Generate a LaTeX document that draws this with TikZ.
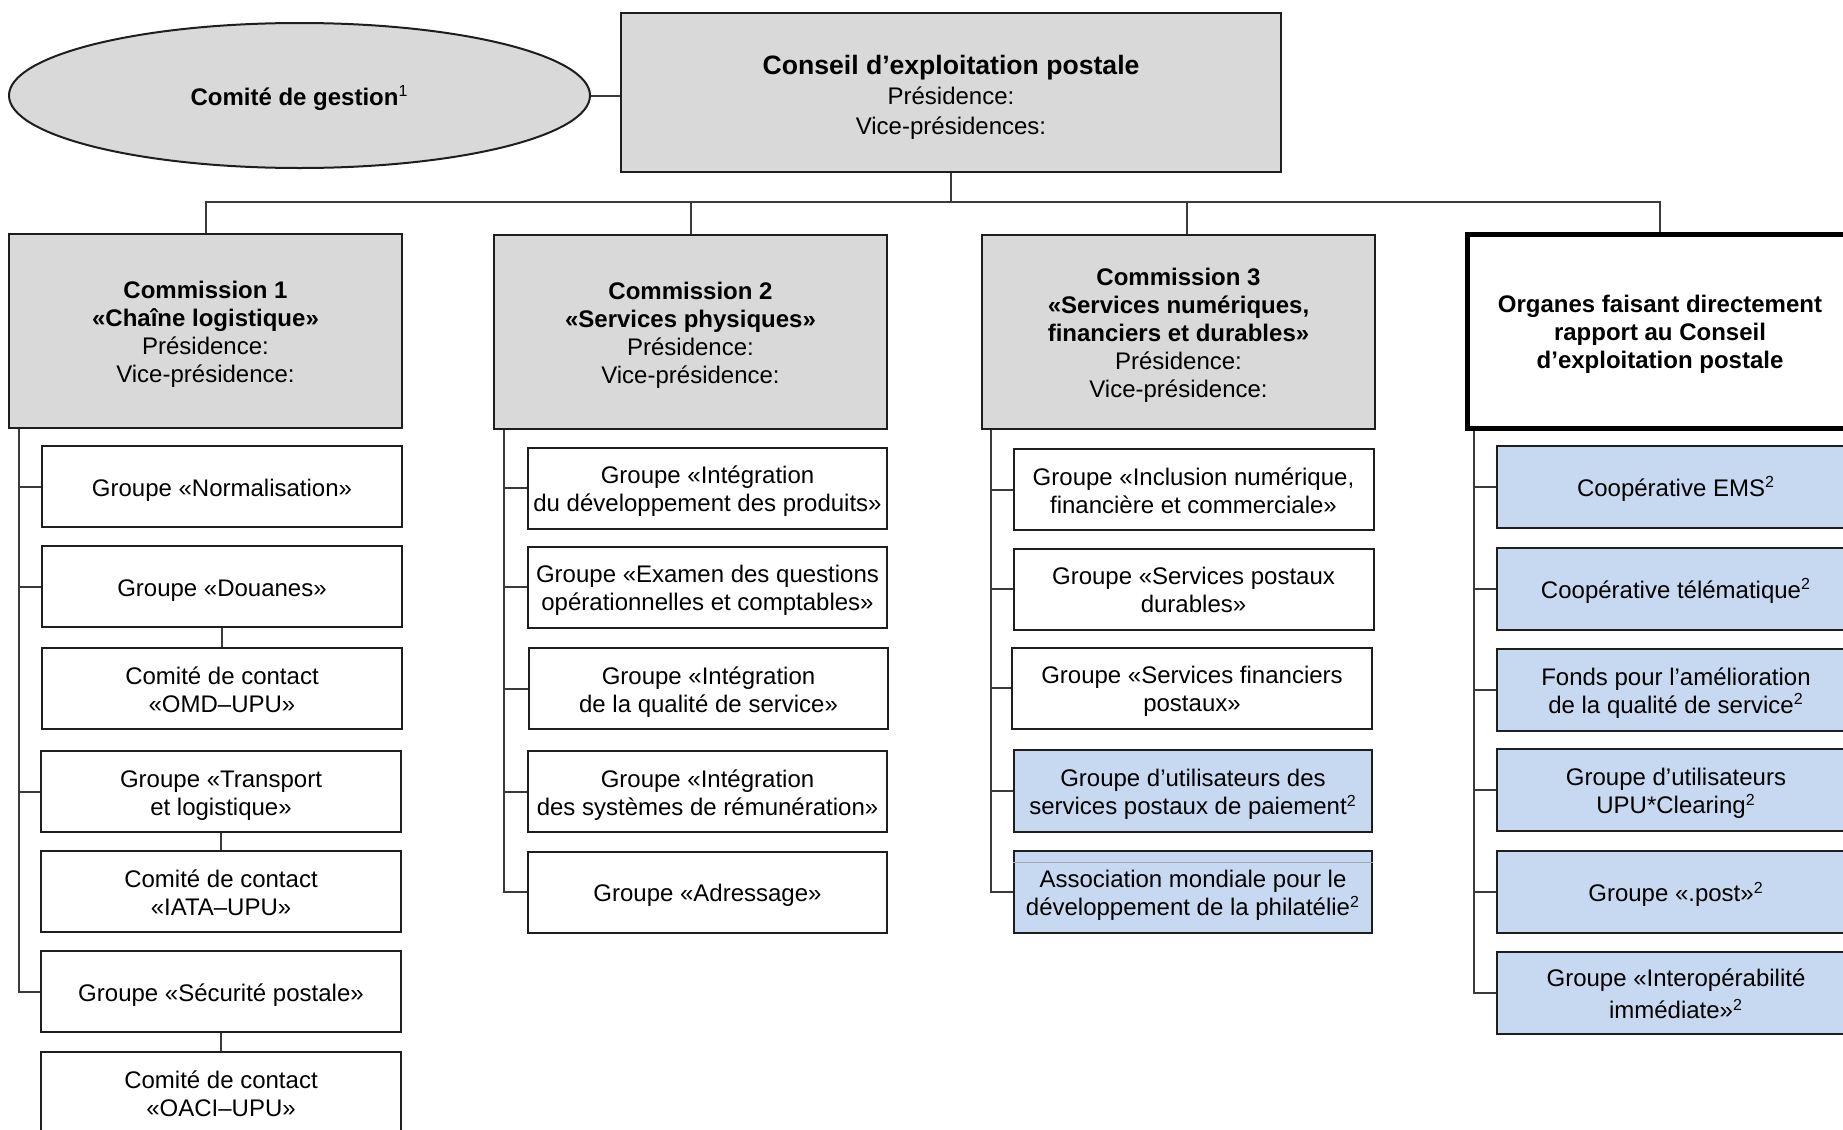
\documentclass[tikz,border=0pt]{standalone}
\usepackage{fontspec}
\setmainfont{Liberation Sans}
\usetikzlibrary{shapes.geometric}
\definecolor{boxgray}{HTML}{D9D9D9}
\definecolor{boxblue}{HTML}{C6D9F1}
\definecolor{linec}{HTML}{3A3A3A}
\definecolor{edgec}{HTML}{1E1E1E}
\newcommand\topstrut[1]{\rule{0pt}{#1}}
\newcommand\botstrut{\rule[-2.5pt]{0pt}{0pt}}
\begin{document}
\begin{tikzpicture}[x=0.5pt,y=-0.5pt,
  base/.style={draw=edgec, line width=1pt, align=center, inner sep=0pt, font=\fontsize{12}{14}\selectfont},
  sub/.style={base, minimum width=180pt, minimum height=40.5pt},
  comm/.style={base, fill=boxgray, minimum width=196.5pt, minimum height=97pt},
  ext/.style={base, fill=boxblue, minimum width=179pt, minimum height=41pt},
  link/.style={draw=linec, line width=1pt}]
\useasboundingbox (0,0) rectangle (1843,1130);
\clip (0,0) rectangle (1843,1130);

% top level
\node[base, ellipse, fill=boxgray, minimum width=290.5pt, minimum height=72.5pt] (ges) at (299.5,95.5)
  {\topstrut{12.2pt}\textbf{Comité de gestion}\textsuperscript{1}\botstrut};
\node[base, fill=boxgray, minimum width=330pt, minimum height=79.5pt] (con) at (951,92.5)
  {\topstrut{14.5pt}{\fontsize{13.3}{16}\selectfont\bfseries Conseil d’exploitation postale}\\[1pt]Présidence:\\[1pt]Vice-présidences:\botstrut};

% commissions
\node[comm] (c1) at (205.5,331) {\topstrut{12.2pt}\textbf{Commission 1}\\\textbf{«Chaîne logistique»}\\Présidence:\\Vice-présidence:\botstrut};
\node[comm] (c2) at (690.5,331.5) {\topstrut{12.2pt}\textbf{Commission 2}\\\textbf{«Services physiques»}\\Présidence:\\Vice-présidence:\botstrut};
\node[comm] (c3) at (1178.5,332) {\topstrut{12.2pt}\textbf{Commission 3}\\\textbf{«Services numériques,}\\\textbf{financiers et durables»}\\Présidence:\\Vice-présidence:\botstrut};
\node[base, draw=black, line width=2.5pt, minimum width=193pt, minimum height=97pt] (org) at (1660,331)
  {\topstrut{12.2pt}\textbf{Organes faisant directement}\\\textbf{rapport au Conseil}\\\textbf{d’exploitation postale}\botstrut};

% commission 1 groups
\node[sub] (n1) at (222,486.5) {\topstrut{12.2pt}Groupe «Normalisation»\botstrut};
\node[sub] (n2) at (222,586.5) {\topstrut{12.2pt}Groupe «Douanes»\botstrut};
\node[sub] (n3) at (222,688.5) {\topstrut{12.2pt}Comité de contact\\«OMD–UPU»\botstrut};
\node[sub] (n4) at (221,791.5) {\topstrut{12.2pt}Groupe «Transport\\et logistique»\botstrut};
\node[sub] (n5) at (221,891.5) {\topstrut{12.2pt}Comité de contact\\«IATA–UPU»\botstrut};
\node[sub] (n6) at (221,991.5) {\topstrut{12.2pt}Groupe «Sécurité postale»\botstrut};
\node[sub] (n7) at (221,1092.5) {\topstrut{12.2pt}Comité de contact\\«OACI–UPU»\botstrut};

% commission 2 groups
\node[sub, minimum width=179.5pt] (m1) at (707.5,488) {\topstrut{12.2pt}Groupe «Intégration\\du développement des produits»\botstrut};
\node[sub, minimum width=179.5pt] (m2) at (707.5,587) {\topstrut{12.2pt}Groupe «Examen des questions\\opérationnelles et comptables»\botstrut};
\node[sub, minimum width=179.5pt] (m3) at (708.5,688.5) {\topstrut{12.2pt}Groupe «Intégration\\de la qualité de service»\botstrut};
\node[sub, minimum width=179.5pt] (m4) at (707.5,791.5) {\topstrut{12.2pt}Groupe «Intégration\\des systèmes de rémunération»\botstrut};
\node[sub, minimum width=179.5pt] (m5) at (707.5,892) {\topstrut{12.2pt}Groupe «Adressage»\botstrut};

% commission 3 groups
\node[sub] (k1) at (1193.5,489.5) {\topstrut{12.2pt}Groupe «Inclusion numérique,\\financière et commerciale»\botstrut};
\node[sub] (k2) at (1193.5,589) {\topstrut{12.2pt}Groupe «Services postaux\\durables»\botstrut};
\node[sub] (k3) at (1192,688) {\topstrut{12.2pt}Groupe «Services financiers\\postaux»\botstrut};
\node[ext] (k4) at (1193,791) {\topstrut{12.2pt}Groupe d’utilisateurs des\\services postaux de paiement\textsuperscript{2}\botstrut};
\node[ext] (k5) at (1193,892) {\topstrut{12.2pt}Association mondiale pour le\\développement de la philatélie\textsuperscript{2}\botstrut};
\draw[gray!70, line width=0.5pt] ([yshift=-6pt]k5.north west) -- ([yshift=-6pt]k5.north east);

% bodies reporting directly
\node[ext] (o1) at (1676,486.5) {\topstrut{12.2pt}Coopérative EMS\textsuperscript{2}\botstrut};
\node[ext] (o2) at (1676,588.5) {\topstrut{12.2pt}Coopérative télématique\textsuperscript{2}\botstrut};
\node[ext] (o3) at (1676,689.5) {\topstrut{12.2pt}Fonds pour l’amélioration\\de la qualité de service\textsuperscript{2}\botstrut};
\node[ext] (o4) at (1676,790) {\topstrut{12.2pt}Groupe d’utilisateurs\\UPU*Clearing\textsuperscript{2}\botstrut};
\node[ext] (o5) at (1676,892) {\topstrut{12.2pt}Groupe «.post»\textsuperscript{2}\botstrut};
\node[ext] (o6) at (1676,993) {\topstrut{12.2pt}Groupe «Interopérabilité\\[2pt]immédiate»\textsuperscript{2}\botstrut};

% top connectors
\draw[link] (ges.east) -- (ges.east -| con.west);
\coordinate (bus) at (951,202);
\draw[link] (con.south) -- (bus);
\draw[link] (c1.north) |- (bus) -| (org.north);
\draw[link] (c2.north) -- (c2.north |- bus);
\draw[link] ([xshift=4.25pt]c3.north) -- ([xshift=4.25pt]c3.north |- bus);

% commission 1 trunk
\coordinate (t1) at ([xshift=5.5pt]c1.south west);
\draw[link] (t1) |- (n6.west);
\foreach \n in {n1,n2,n4} \draw[link] (\n.west) -- (\n.west -| t1);
\draw[link] (n2.south) -- (n3.north);
\draw[link] (n4.south) -- (n5.north);
\draw[link] (n6.south) -- (n7.north);

% commission 2 trunk
\coordinate (t2) at ([xshift=5.5pt]c2.south west);
\draw[link] (t2) |- (m5.west);
\foreach \n in {m1,m2,m3,m4} \draw[link] (\n.west) -- (\n.west -| t2);

% commission 3 trunk
\coordinate (t3) at ([xshift=5pt]c3.south west);
\draw[link] (t3) |- (k5.west);
\foreach \n in {k1,k2,k3,k4} \draw[link] (\n.west) -- (\n.west -| t3);

% organes trunk
\coordinate (t4) at ([xshift=4.5pt]org.south west);
\draw[link] (t4) |- (o6.west);
\foreach \n in {o1,o2,o3,o4,o5} \draw[link] (\n.west) -- (\n.west -| t4);
\end{tikzpicture}
\end{document}
